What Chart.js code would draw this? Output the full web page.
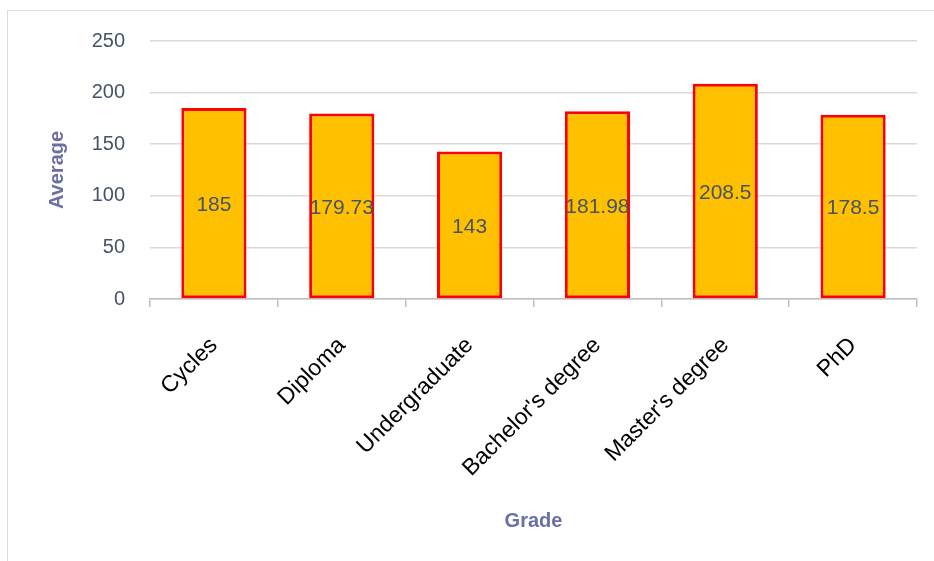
<!DOCTYPE html>
<html>
<head>
<meta charset="utf-8">
<script src="https://cdn.jsdelivr.net/npm/chart.js@4.4.0/dist/chart.umd.min.js"></script>
<style>
  html, body { margin: 0; padding: 0; background: #fff; }
  #wrap { position: relative; width: 934px; height: 561px; }
  #frame { position: absolute; left: 7px; top: 10px; width: 940px; height: 560px; border: 1px solid #D9DDE3; }
  canvas { position: absolute; left: 0; top: 4px; }
</style>
</head>
<body>
<div id="wrap">
  <div id="frame"></div>
  <canvas id="chart" width="934" height="557"></canvas>
</div>
<script>
// Average by grade
const grades = ['Cycles', 'Diploma', 'Undergraduate', "Bachelor's degree", "Master's degree", 'PhD'];
const averages = [185, 179.73, 143, 181.98, 208.5, 178.5];
const yTicks = [0, 50, 100, 150, 200, 250];

const tickColor = '#44546A';
const titleColor = '#6B6FA3';
const font = "'Liberation Sans', Arial, sans-serif";

// draws the value in the middle of each bar
const barValues = {
    id: 'barValues',
    afterDatasetsDraw(chart) {
        const ctx = chart.ctx;
        const meta = chart.getDatasetMeta(0);
        ctx.save();
        ctx.font = '21px ' + font;
        ctx.fillStyle = tickColor;
        ctx.textAlign = 'center';
        ctx.textBaseline = 'middle';
        meta.data.forEach((bar, i) => {
            ctx.fillText(String(averages[i]), bar.x, (bar.y + bar.base) / 2 + 2);
        });
        ctx.restore();
    }
};

const chart = new Chart(document.getElementById('chart'), {
    type: 'bar',
    data: {
        labels: grades,
        datasets: [{
            data: averages,
            backgroundColor: '#FFC000',
            borderColor: '#FF0000',
            borderWidth: 3,
            borderSkipped: false,
            categoryPercentage: 1,
            barPercentage: 0.51
        }]
    },
    options: {
        responsive: false,
        animation: false,
        layout: { padding: { left: 45, right: 17, top: 30, bottom: 0 } },
        plugins: {
            legend: { display: false },
            tooltip: { enabled: false }
        },
        scales: {
            x: {
                grid: { offset: true, drawOnChartArea: false, drawTicks: true, tickLength: 8, color: '#BFBFBF', lineWidth: 1.5 },
                border: { display: true, color: '#BFBFBF', width: 1.5 },
                ticks: { color: '#000', font: { family: font, size: 23 }, maxRotation: 45, minRotation: 45, padding: 25 },
                title: { display: true, text: 'Grade', color: titleColor, font: { family: font, size: 20, weight: 'bold' }, padding: { top: 10, bottom: 28 } },
                afterFit: s => { s.height = 262; }
            },
            y: {
                min: 0,
                max: 250,
                afterBuildTicks: s => { s.ticks = yTicks.map(v => ({ value: v })); },
                grid: { color: '#D9D9D9', lineWidth: 1.5, drawTicks: false },
                border: { display: false },
                ticks: { color: tickColor, font: { family: font, size: 20 }, padding: 25 },
                title: { display: true, text: 'Average', color: titleColor, font: { family: font, size: 20, weight: 'bold' }, padding: { top: 0, bottom: 0 } },
                afterFit: s => { s.width = 105; }
            }
        }
    },
    plugins: [barValues]
});
</script>
</body>
</html>
